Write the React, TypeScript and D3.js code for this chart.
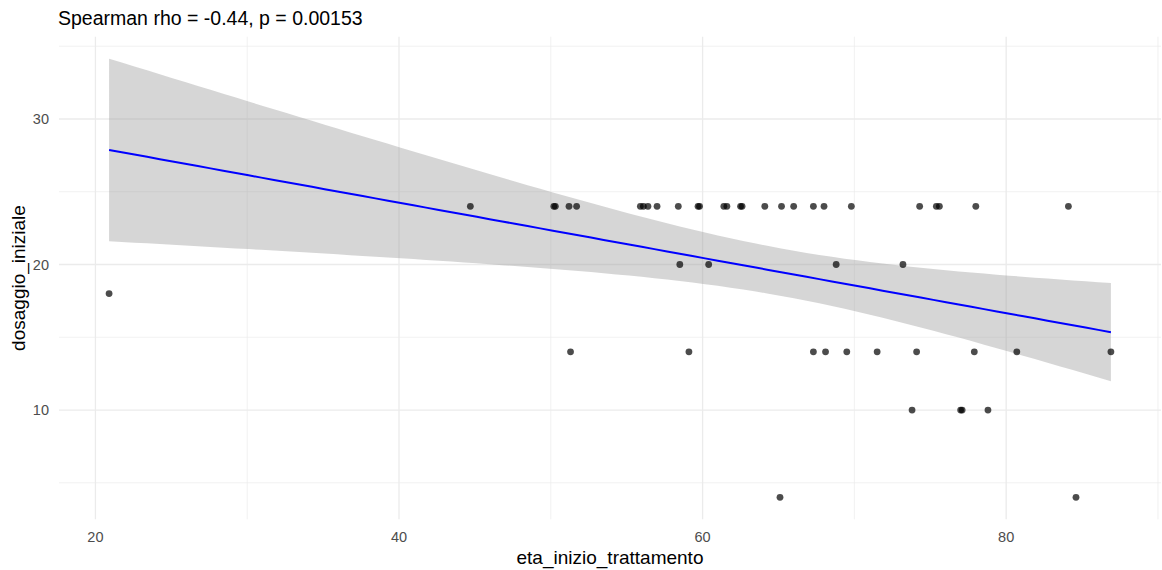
import React, { useRef, useEffect } from 'react'
import * as d3 from 'd3'

// eta_inizio_trattamento (x) and dosaggio_iniziale (y)
const eta = [
  20.9,
  44.7, 50.2, 50.3, 51.2, 51.7, 55.9, 56.1, 56.4, 57.0, 58.4, 59.7, 59.8,
  61.4, 61.6, 62.5, 62.6, 64.1, 65.2, 66.0, 67.3, 68.0, 69.8, 74.3, 75.4,
  75.6, 78.0, 84.1,
  58.5, 60.4, 68.8, 73.2,
  51.3, 59.1, 67.3, 68.1, 69.5, 71.5, 74.1, 77.9, 80.7, 86.9,
  73.8, 77.0, 77.1, 78.8,
  65.1, 84.6,
]
const dosaggio = [
  18,
  24, 24, 24, 24, 24, 24, 24, 24, 24, 24, 24, 24,
  24, 24, 24, 24, 24, 24, 24, 24, 24, 24, 24, 24,
  24, 24, 24,
  20, 20, 20, 20,
  14, 14, 14, 14, 14, 14, 14, 14, 14, 14,
  10, 10, 10, 10,
  4, 4,
]
const xTicks = [20, 40, 60, 80]
const xMinor = [30, 50, 70, 90]
const yTicks = [10, 20, 30]
const yMinor = [5, 15, 25, 35]
const title = 'Spearman rho = -0.44, p = 0.00153'
const xTitle = 'eta_inizio_trattamento'
const yTitle = 'dosaggio_iniziale'

const W = 1162
const H = 570
const margin = { top: 36.7, right: 1, bottom: 50.7, left: 59 }
const FONT = '"Liberation Sans", Arial, sans-serif'
const T_CRIT = 2.0129 // qt(0.975, n - 2)

// lm fit with 95% confidence band, like geom_smooth(method = "lm")
const fitLm = (xs: number[], ys: number[]) => {
  const n = xs.length
  const mx = d3.mean(xs) as number
  const my = d3.mean(ys) as number
  const sxx = d3.sum(xs, (x) => (x - mx) ** 2)
  const sxy = d3.sum(xs, (x, i) => (x - mx) * (ys[i] - my))
  const b = sxy / sxx
  const a = my - b * mx
  const sse = d3.sum(xs, (x, i) => (ys[i] - (a + b * x)) ** 2)
  const s = Math.sqrt(sse / (n - 2))
  const [lo, hi] = d3.extent(xs) as [number, number]
  return d3.range(80).map((k) => {
    const x = lo + ((hi - lo) * k) / 79
    const y = a + b * x
    const se = s * Math.sqrt(1 / n + (x - mx) ** 2 / sxx)
    return { x, y, ymin: y - T_CRIT * se, ymax: y + T_CRIT * se }
  })
}

const expand = ([a, b]: number[]) => {
  const d = (b - a) * 0.05
  return [a - d, b + d]
}

const App = () => {
  const svgRef = useRef<SVGSVGElement>(null)

  useEffect(() => {
    const svg = d3.select(svgRef.current)
    svg.selectAll('*').remove()

    const fit = fitLm(eta, dosaggio)
    const x = d3.scaleLinear()
      .domain(expand(d3.extent(eta) as number[]))
      .range([margin.left, W - margin.right])
    const yExt = [
      Math.min(d3.min(dosaggio) as number, d3.min(fit, (d) => d.ymin) as number),
      Math.max(d3.max(dosaggio) as number, d3.max(fit, (d) => d.ymax) as number),
    ]
    const y = d3.scaleLinear()
      .domain(expand(yExt))
      .range([H - margin.bottom, margin.top])

    const grid = svg.append('g')
    // minor grid
    grid.selectAll('line.xminor').data(xMinor).enter().append('line')
      .attr('x1', (d) => x(d)).attr('x2', (d) => x(d))
      .attr('y1', margin.top).attr('y2', H - margin.bottom)
      .attr('stroke', '#EBEBEB').attr('stroke-width', 0.7)
    grid.selectAll('line.yminor').data(yMinor).enter().append('line')
      .attr('y1', (d) => y(d)).attr('y2', (d) => y(d))
      .attr('x1', margin.left).attr('x2', W - margin.right)
      .attr('stroke', '#EBEBEB').attr('stroke-width', 0.7)
    // major grid
    grid.selectAll('line.xmajor').data(xTicks).enter().append('line')
      .attr('x1', (d) => x(d)).attr('x2', (d) => x(d))
      .attr('y1', margin.top).attr('y2', H - margin.bottom)
      .attr('stroke', '#EBEBEB').attr('stroke-width', 1.3)
    grid.selectAll('line.ymajor').data(yTicks).enter().append('line')
      .attr('y1', (d) => y(d)).attr('y2', (d) => y(d))
      .attr('x1', margin.left).attr('x2', W - margin.right)
      .attr('stroke', '#EBEBEB').attr('stroke-width', 1.3)

    // confidence band
    const area = d3.area<any>()
      .x((d) => x(d.x))
      .y0((d) => y(d.ymin))
      .y1((d) => y(d.ymax))
    svg.append('path').datum(fit)
      .attr('d', area)
      .attr('fill', '#999999').attr('fill-opacity', 0.4)

    // points
    svg.append('g').selectAll('circle').data(eta).enter().append('circle')
      .attr('cx', (d) => x(d))
      .attr('cy', (d, i) => y(dosaggio[i]))
      .attr('r', 3.4)
      .attr('fill', 'black').attr('fill-opacity', 0.7)

    // fit line
    const line = d3.line<any>().x((d) => x(d.x)).y((d) => y(d.y))
    svg.append('path').datum(fit)
      .attr('d', line)
      .attr('fill', 'none').attr('stroke', '#0000FF').attr('stroke-width', 2)

    // tick labels
    svg.append('g').selectAll('text').data(xTicks).enter().append('text')
      .attr('x', (d) => x(d)).attr('y', 542)
      .attr('text-anchor', 'middle')
      .attr('font-size', 14.5).attr('fill', '#4D4D4D').attr('font-family', FONT)
      .text((d) => d)
    svg.append('g').selectAll('text').data(yTicks).enter().append('text')
      .attr('x', 49).attr('y', (d) => y(d))
      .attr('dy', '0.35em')
      .attr('text-anchor', 'end')
      .attr('font-size', 14.5).attr('fill', '#4D4D4D').attr('font-family', FONT)
      .text((d) => d)

    // titles
    svg.append('text')
      .attr('x', 58).attr('y', 25)
      .attr('font-size', 19.5).attr('fill', 'black').attr('font-family', FONT)
      .text(title)
    svg.append('text')
      .attr('x', (margin.left + W - margin.right) / 2).attr('y', 564)
      .attr('text-anchor', 'middle')
      .attr('font-size', 19).attr('fill', 'black').attr('font-family', FONT)
      .text(xTitle)
    svg.append('text')
      .attr('transform', `translate(25,${(margin.top + H - margin.bottom) / 2}) rotate(-90)`)
      .attr('text-anchor', 'middle')
      .attr('font-size', 19).attr('fill', 'black').attr('font-family', FONT)
      .text(yTitle)
  }, [])

  return (
    <svg
      ref={svgRef}
      width={W}
      height={H}
      style={{ position: 'absolute', left: 0, top: 0, background: 'white' }}
    />
  )
}

export default App
